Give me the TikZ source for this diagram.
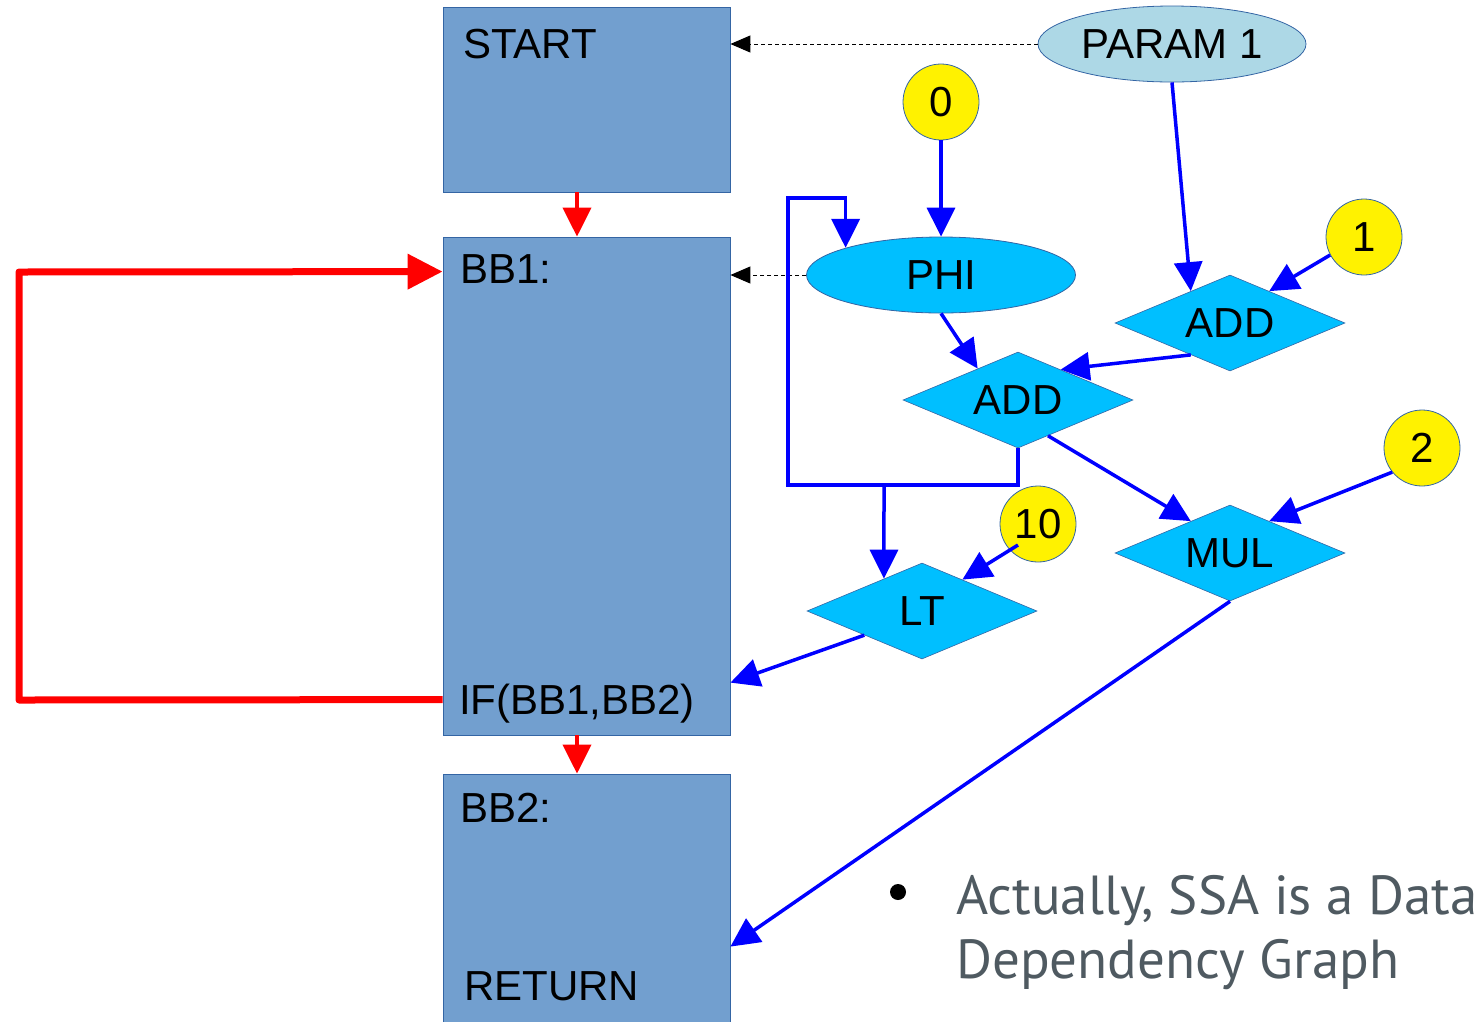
\documentclass[tikz,border=0pt]{standalone}
\usepackage{fontspec}
\setmainfont{Liberation Sans}
\newfontfamily\notefont{PT Sans}
\usetikzlibrary{shapes.geometric,arrows.meta,calc}
\definecolor{boxfill}{HTML}{729FCF}
\definecolor{boxedge}{HTML}{3465A4}
\definecolor{opfill}{HTML}{00BFFF}
\definecolor{paramfill}{HTML}{ADD8E6}
\definecolor{notegray}{HTML}{4F5A61}
\definecolor{depblue}{HTML}{0000FF}
\definecolor{cfgred}{HTML}{FF0000}
\begin{document}
\begin{tikzpicture}[x=1pt,y=-1pt,
  lbl/.style={font=\fontsize{42}{50}\selectfont},
  block/.style={rectangle, fill=boxfill, draw=boxedge, line width=0.8pt,
    minimum width=287pt, inner sep=0pt},
  valnode/.style={ellipse, draw=boxedge, line width=0.8pt, inner sep=0pt,
    minimum width=268pt, minimum height=76pt, lbl},
  opnode/.style={diamond, fill=opfill, draw=boxedge, line width=0.6pt,
    inner sep=0pt, aspect=2.4, minimum width=230pt, minimum height=96pt, lbl},
  constnode/.style={circle, fill=yellow, draw=boxedge, line width=0.8pt,
    inner sep=0pt, minimum size=76pt, lbl},
  dep/.style={draw=depblue, line width=3.5pt,
    -{Triangle[length=29pt,width=28pt]}},
  cfg/.style={draw=cfgred, line width=4pt,
    -{Triangle[length=29pt,width=28pt]}},
  cfgback/.style={draw=cfgred, line width=7pt, line join=round,
    -{Triangle[length=35pt,width=34pt]}},
  ref/.style={draw=black, line width=1pt, dash pattern=on 4pt off 3pt,
    -{Triangle[length=20pt,width=17pt]}},
  note/.style={font=\notefont\fontsize{55}{63}\selectfont, text=notegray,
    inner sep=0pt}
]
\useasboundingbox (0,0) rectangle (1479,1021);

% basic blocks
\node[block, minimum height=185pt] (start) at (586.5,99.5) {};
\node[block, minimum height=498pt] (bb1) at (586.5,486) {};
\node[block, minimum height=280pt] (bb2) at (586.5,914) {};

\node[lbl, anchor=base west, inner sep=0pt] (tstart) at (463,58) {START};
\node[lbl, anchor=base west, inner sep=0pt] (tbb1) at (460,283) {BB1:};
\node[lbl, anchor=base west, inner sep=0pt] (tif) at (459,714) {IF(BB1,BB2)};
\node[lbl, anchor=base west, inner sep=0pt] (tbb2) at (460,822) {BB2:};
\node[lbl, anchor=base west, inner sep=0pt] (tret) at (464,1000) {RETURN};

% values and operations
\node[valnode, fill=paramfill] (param) at (1172,44) {PARAM 1};
\node[valnode, fill=opfill, minimum width=269pt] (phi) at (941,275) {PHI};
\node[opnode] (addr) at (1230,323) {ADD};
\node[opnode] (addm) at (1018,400) {ADD};
\node[opnode] (mul) at (1230,553) {MUL};
\node[opnode] (lt) at (922,611) {LT};

\node[constnode] (c0) at (941,102) {0};
\node[constnode] (c1) at (1364,237) {1};
\node[constnode] (c2) at (1422,448) {2};
\node[constnode] (c10) at (1038,524) {10};

% references back to the blocks
\draw[ref] (param.west) -- (start.east |- param.west);
\draw[ref] (phi.west) -- (bb1.east |- phi.west);

% data dependencies
\draw[dep] (c0.south) -- (phi.north);
\draw[dep] (param.south) -- ($(addr.west)!0.66!(addr.north)$);
\draw[dep] (c1.208) -- ($(addr.north)!0.34!(addr.east)$);
\draw[dep] (phi.south) -- ($(addm.west)!0.65!(addm.north)$);
\draw[dep] ($(addr.west)!0.66!(addr.south)$) -- ($(addm.north)!0.37!(addm.east)$);
\draw[dep] ($(addm.south)!0.26!(addm.east)$) -- ($(mul.west)!0.66!(mul.north)$);
\draw[dep] (c2.219) -- ($(mul.north)!0.34!(mul.east)$);
\draw[dep] ($(c10.center)+(-20,21)$) -- ($(lt.north)!0.35!(lt.east)$);

% loop-carried value back into the phi
\coordinate (loopL) at (788,485);
\coordinate (loopT) at (788,198);
\coordinate (fork) at (884,485);
\draw[dep, line join=miter] (addm.south) -- (addm.south |- loopL) -- (loopL)
  -- (loopT) -- (loopT -| phi.north west) -- (phi.north west);
\draw[dep] (fork) -- ($(lt.west)!0.67!(lt.north)$);

\draw[dep] ($(lt.west)!0.5!(lt.south)$) -- ($(bb1.north east)+(0,446)$);
\draw[dep] (mul.south) -- ($(bb2.north east)+(0,173)$);

% control flow
\draw[cfg] ($(start.south)+(-9.5,0)$) -- ($(bb1.north)+(-9.5,0)$);
\draw[cfg] ($(bb1.south)+(-9.5,0)$) -- ($(bb2.north)+(-9.5,0)$);
\coordinate (backB) at (19,700);
\coordinate (backT) at (19,272);
\draw[cfgback] ($(bb1.north west)+(0,463)$) -- (backB) -- (backT)
  -- ($(bb1.north west)+(0,35)$);

% remark
\node[circle, fill=black, inner sep=0pt, minimum size=16pt] (dot) at (898,892) {};
\node[note, anchor=base west] (note1) at (956,914) {Actually, SSA is a Data};
\node[note, anchor=base west] (note2) at (956,978) {Dependency Graph};
\end{tikzpicture}
\end{document}
